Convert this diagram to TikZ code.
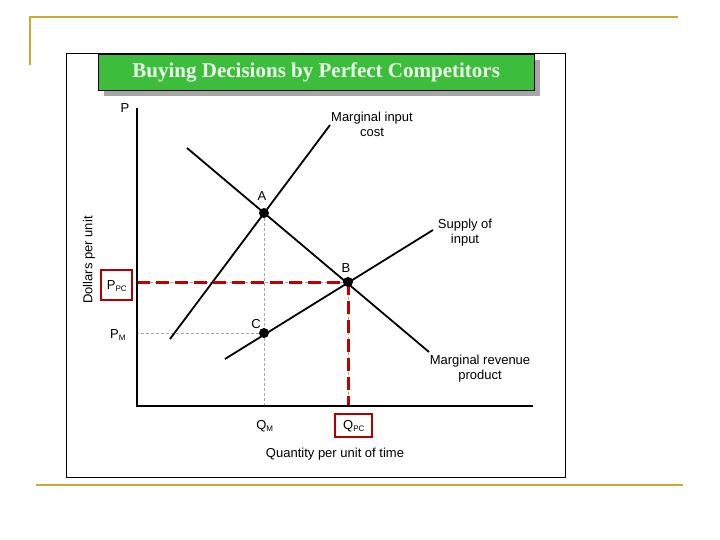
\documentclass[tikz,border=0pt]{standalone}
\usepackage{fontspec}
\setmainfont{Liberation Serif}
\setsansfont{Liberation Sans}
\begin{document}
\begin{tikzpicture}[x=1pt,y=-1pt,
 lbl/.style={font=\sffamily\fontsize{13}{15}\selectfont,align=center,inner sep=0pt},
 curve/.style={line width=1.8pt},
 reddash/.style={draw=red!75!black,line width=3pt,dash pattern=on 13pt off 6pt},
 grey/.style={draw=gray!70,densely dashed,line width=0.8pt},
 pt/.style={circle,fill=black,inner sep=0pt,minimum size=10pt},
 redbox/.style={draw=red!70!black,line width=1.5pt}]
\useasboundingbox (0,0) rectangle (720,540);
\fill[white] (0,0) rectangle (720,540);
\draw[draw={rgb,255:red,200;green,170;blue,50},line width=1.5pt] (30,65) -- (30,17) -- (678,17);
\draw[draw={rgb,255:red,200;green,170;blue,50},line width=1.5pt] (36,485) -- (683,485);
\draw[line width=1pt] (66,54) rectangle (565,477);
\fill[gray!70] (104,60) rectangle (540,96);
\node[draw=black,fill={rgb,255:red,60;green,190;blue,60},minimum width=436pt,minimum height=36pt,anchor=north west,inner sep=0pt,text={rgb,255:red,235;green,250;blue,235},font=\bfseries\fontsize{21}{22}\selectfont] (title) at (98,54) {Buying Decisions by Perfect Competitors};
\coordinate (O) at (137,406);
\coordinate (Ytop) at (137,108);
\coordinate (Xend) at (533,406);
\coordinate (A) at (264,213);
\coordinate (B) at (348,282);
\coordinate (C) at (264,333);
\coordinate (PPCy) at (137,282);
\coordinate (QPCx) at (348,406);
\coordinate (PMy) at (137,333);
\coordinate (QMx) at (264,406);
\draw[grey] (A) -- (QMx);
\draw[grey] (C) -- (PMy);
\draw[grey] (B) -- (PPCy);
\draw[grey] (B) -- (QPCx);
\coordinate (mic1) at (170,339); \coordinate (mic2) at (330,125);
\coordinate (mrp1) at (187,148); \coordinate (mrp2) at (429,352);
\coordinate (s1) at (225,359); \coordinate (s2) at (433,230);
\draw[curve] (mic1) -- (mic2);
\draw[curve] (mrp1) -- (mrp2);
\draw[curve] (s1) -- (s2);
\draw[reddash] (PPCy) -- (B);
\draw[reddash] (B) -- (QPCx);
\draw[line width=2pt] (Ytop) -- (O) -- (Xend);
\node[pt] (pA) at (A) {}; \node[pt] (pB) at (B) {}; \node[pt] (pC) at (C) {};
\node[lbl] (lP) at (125,108) {P};
\node[lbl] (lmic) at (372,124) {Marginal input\\cost};
\node[lbl] (lA) at (262,196) {A};
\node[lbl] (lB) at (346,268) {B};
\node[lbl] (lC) at (256,324) {C};
\node[lbl] (ls) at (465,233) {Supply of\\input};
\node[lbl] (lmrp) at (480,369) {Marginal revenue\\product};
\node[lbl] (lPM) at (118,335) {P\textsubscript{\fontsize{8}{8}\selectfont M}};
\node[lbl] (lQM) at (265,426) {Q\textsubscript{\fontsize{8}{8}\selectfont M}};
\node[lbl] (lPPC) at (117,286) {P\textsubscript{\fontsize{8}{8}\selectfont PC}};
\node[lbl] (lQPC) at (354,426) {Q\textsubscript{\fontsize{8}{8}\selectfont PC}};
\draw[redbox] (101,270) rectangle (132,300);
\draw[redbox] (335,414) rectangle (372,437);
\node[lbl] (lq) at (335,454) {Quantity per unit of time};
\node[lbl,rotate=90] (ld) at (89,260) {Dollars per unit};
\end{tikzpicture}
\end{document}
